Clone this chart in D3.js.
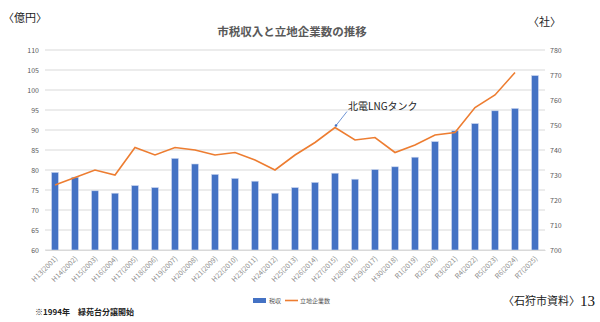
<!DOCTYPE html>
<html><head><meta charset="utf-8">
<script src="https://cdn.jsdelivr.net/npm/d3@7"></script>
<style>body{margin:0;background:#fff;}svg{display:block;}</style>
</head><body>
<svg id="c" width="600" height="322"></svg>
<script>
const categories = ["H13(2001)","H14(2002)","H15(2003)","H16(2004)","H17(2005)","H18(2006)","H19(2007)","H20(2008)","H21(2009)","H22(2010)","H23(2011)","H24(2012)","H25(2013)","H26(2014)","H27(2015)","H28(2016)","H29(2017)","H30(2018)","R1(2019)","R2(2020)","R3(2021)","R4(2022)","R5(2023)","R6(2024)","R7(2025)"];
const taxRevenue = [79.4,78.2,74.8,74.2,76.1,75.6,82.9,81.5,78.9,77.9,77.2,74.2,75.6,76.9,79.2,77.7,80.1,80.8,83.2,87.1,89.8,91.6,94.8,95.4,103.6];
const companies = [726,729,732,730,741,738,741,740,738,739,736,732,738,743,749,744,745,739,742,746,747,757,762,771,null];
const leftTicks = [60,65,70,75,80,85,90,95,100,105,110];
const rightTicks = [700,710,720,730,740,750,760,770,780];

const svg = d3.select("#c");
const font = "'Noto Sans CJK JP', 'Noto Sans', sans-serif";
const m = {l:45, r:55, t:50, b:72};
const W = 600, H = 322;
const x = d3.scaleBand().domain(categories).range([m.l, W - m.r]).paddingInner(0.66).paddingOuter(0.33);
const yL = d3.scaleLinear().domain([60,110]).range([H - m.b, m.t]);
const yR = d3.scaleLinear().domain([700,780]).range([H - m.b, m.t]);

// gridlines
svg.append("g").selectAll("line").data(leftTicks).join("line")
  .attr("x1", m.l).attr("x2", W - m.r)
  .attr("y1", d => yL(d)).attr("y2", d => yL(d))
  .attr("stroke", "#d9d9d9").attr("stroke-width", 1);

// left axis
const gl = svg.append("g").attr("transform", `translate(${m.l},0)`)
  .call(d3.axisLeft(yL).tickValues(leftTicks).tickSize(0).tickPadding(6));
gl.select(".domain").remove();
gl.selectAll("text").attr("fill", "#595959").style("font-size", "7px").style("font-family", font);

// right axis
const gr = svg.append("g").attr("transform", `translate(${W - m.r},0)`)
  .call(d3.axisRight(yR).tickValues(rightTicks).tickSize(0).tickPadding(5));
gr.select(".domain").remove();
gr.selectAll("text").attr("fill", "#595959").style("font-size", "7px").style("font-family", font);

// bars
svg.append("g").selectAll("rect").data(categories).join("rect")
  .attr("x", d => x(d)).attr("width", x.bandwidth())
  .attr("y", (d,i) => yL(taxRevenue[i]))
  .attr("height", (d,i) => yL(60) - yL(taxRevenue[i]))
  .attr("fill", "#4472c4").attr("stroke", "#c9d5ee").attr("stroke-width", 0.6);

// line
const line = d3.line().defined(d => d.v != null)
  .x(d => x(d.c) + x.bandwidth()/2).y(d => yR(d.v));
svg.append("path")
  .datum(categories.map((c,i) => ({c, v: companies[i]})))
  .attr("d", line).attr("fill", "none").attr("stroke", "#ed7d31").attr("stroke-width", 1.6);

// x labels
const xl = svg.append("g").attr("transform", `translate(0,${H - m.b})`)
  .call(d3.axisBottom(x).tickSize(0).tickPadding(0));
xl.select(".domain").attr("stroke", "#d9d9d9");
xl.selectAll("text")
  .attr("text-anchor", "end").attr("dy", "0").attr("dx", "0")
  .attr("transform", "translate(3,9) rotate(-45)")
  .attr("fill", "#8a8a8a").style("font-size", "7px").style("font-family", font);

// annotation
const annIdx = categories.indexOf("H27(2015)");
const ax = x(categories[annIdx]) + x.bandwidth()/2, ay = yR(companies[annIdx]);
svg.append("line").attr("x1", ax + 1).attr("y1", ay - 2).attr("x2", ax + 12).attr("y2", ay - 16)
  .attr("stroke", "#6f95d6").attr("stroke-width", 1);
svg.append("circle").attr("cx", ax + 1).attr("cy", ay - 2).attr("r", 1.3).attr("fill", "#4472c4");
svg.append("text").attr("x", ax + 13).attr("y", ay - 18)
  .text("北電LNGタンク").attr("fill", "#222").style("font-size", "10px").style("font-family", font);

// title
svg.append("text").attr("x", 292).attr("y", 36).attr("text-anchor", "middle")
  .text("市税収入と立地企業数の推移").attr("fill", "#595959")
  .style("font-size", "11.5px").style("font-weight", "bold").style("font-family", font);

// axis units
svg.append("text").attr("x", 3).attr("y", 22).text("〈億円〉")
  .attr("fill", "#222").style("font-size", "11px").style("font-family", font);
svg.append("text").attr("x", 528).attr("y", 26).text("〈社〉")
  .attr("fill", "#222").style("font-size", "11px").style("font-family", font);

// legend
const lg = svg.append("g").attr("transform", "translate(253,301)");
lg.append("rect").attr("x", 0).attr("y", -3).attr("width", 13).attr("height", 5).attr("fill", "#4472c4");
lg.append("text").attr("x", 16).attr("y", 2).text("税収").attr("fill", "#595959")
  .style("font-size", "6px").style("font-family", font);
lg.append("line").attr("x1", 32).attr("x2", 45).attr("y1", -0.5).attr("y2", -0.5)
  .attr("stroke", "#ed7d31").attr("stroke-width", 1.6);
lg.append("text").attr("x", 47).attr("y", 2).text("立地企業数").attr("fill", "#595959")
  .style("font-size", "6px").style("font-family", font);

// footnote
svg.append("text").attr("x", 35).attr("y", 315).text("※1994年　緑苑台分譲開始")
  .attr("fill", "#222").style("font-size", "8px").style("font-weight", "bold").style("font-family", font);
svg.append("text").attr("x", 503).attr("y", 305).text("〈石狩市資料〉")
  .attr("fill", "#222").style("font-size", "11px").style("font-family", font);
svg.append("text").attr("x", 580).attr("y", 306).text("13")
  .attr("fill", "#111").style("font-size", "15px").style("font-family", "'Liberation Serif', serif");
</script>
</body></html>
